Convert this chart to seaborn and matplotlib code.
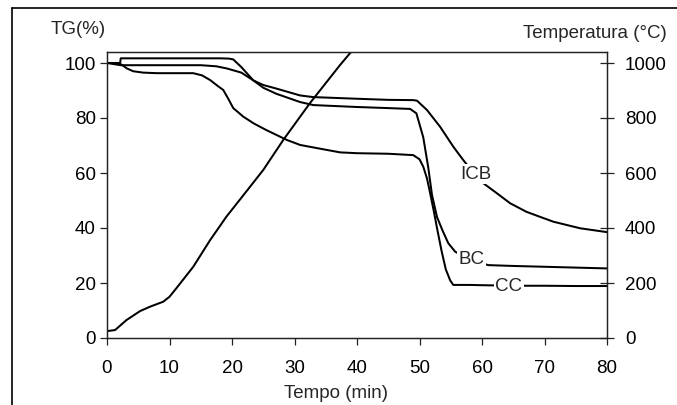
import matplotlib
matplotlib.use("Agg")
import matplotlib.pyplot as plt
import matplotlib.lines as mlines
import seaborn as sns
import numpy as np

# ---- data ----
icb_t = [0, 2.1, 2.2, 18.1, 19.5, 20.2, 21.5, 23.4, 25, 27.1, 30.9, 33, 40, 45, 49, 49.6,
         51.2, 53.3, 55.4, 57, 58.5, 60.2, 62.4, 64.5, 67.1, 69, 71.4, 75.7, 80]
icb_tg = [100, 100, 101.7, 101.7, 101.6, 101.3, 98.5, 93.7, 92, 90.7, 88.2, 87.6, 87, 86.6, 86.5, 86.3,
          82.9, 76.8, 69.6, 64.7, 60.5, 56.3, 52.6, 49, 45.9, 44.3, 42.3, 39.9, 38.5]

bc_t = [0, 2.2, 15, 17.5, 19.2, 21.5, 23.4, 25, 27.1, 30.9, 33, 40, 45, 48.5, 49.5, 50.6,
        51.4, 52.0, 52.8, 53.7, 54.6, 55.7, 58, 61, 65, 70, 75, 80]
bc_tg = [100, 99.2, 99.2, 98.8, 98, 96.5, 93.7, 91, 88.8, 85.8, 84.7, 84, 83.6, 83.3, 81.7, 73,
         62, 52, 44, 39, 34.5, 31.4, 28.5, 26.5, 26.2, 25.9, 25.6, 25.3]

cc_t = [0, 1.5, 2.2, 3.2, 4.2, 5.8, 8, 13.8, 15.2, 16.5, 17.8, 18.6, 19.4, 20.2, 21.8, 23.5,
        25.5, 28.8, 30.9, 33, 37.3, 40, 45, 49, 50, 50.6, 51.2, 51.7, 52.3, 52.8, 53.5,
        54.2, 54.9, 55.4, 58, 60, 65, 70, 75, 80]
cc_tg = [100, 100, 99.6, 98, 97, 96.5, 96.3, 96.3, 95.5, 93.8, 91.5, 90.2, 87, 83.6, 80.5, 78,
         75.6, 72, 70.2, 69.3, 67.5, 67.2, 67, 66.5, 65, 62.3, 58, 52.7, 46, 40, 32,
         25, 21, 19.3, 19.3, 19.2, 19, 19, 18.9, 18.9]

temp_t = [0, 1.3, 3.1, 5.3, 6.9, 9.0, 10.0, 11.1, 13.8, 16.5, 19.1, 21.5, 25.0, 28.2, 32.5, 37.3, 39.6]
temp_c = [25, 29, 65, 98, 114, 132, 150, 181, 259, 356, 441, 510, 611, 720, 855, 993, 1055]

x_ticks = [0, 10, 20, 30, 40, 50, 60, 70, 80]
tg_ticks = [0, 20, 40, 60, 80, 100]
temp_ticks = [0, 200, 400, 600, 800, 1000]

labels = ["ICB", "BC", "CC"]
label_pos = [(59.0, 59.6), (58.3, 28.4), (64.3, 18.7)]

# ---- style ----
sns.set_style("white")
plt.rcParams["font.family"] = ["Liberation Sans", "DejaVu Sans"]
FS = 13.5

fig = plt.figure(figsize=(6.77, 4.05), dpi=100)
ax = fig.add_axes([107 / 677, 67 / 405, 500 / 677, 286 / 405])
ax2 = ax.twinx()

lw = 1.45
for xs, ys in [(icb_t, icb_tg), (bc_t, bc_tg), (cc_t, cc_tg)]:
    sns.lineplot(x=xs, y=ys, ax=ax, color="black", lw=lw, sort=False, estimator=None)
sns.lineplot(x=temp_t, y=temp_c, ax=ax2, color="black", lw=lw, sort=False, estimator=None)

ax.set_xlim(0, 80)
ax.set_ylim(0, 104)
ax2.set_ylim(0, 1040)
ax.set_xticks(x_ticks)
ax.set_yticks(tg_ticks)
ax2.set_yticks(temp_ticks)
ax.set_xlabel("")
ax.set_ylabel("")
ax2.set_ylabel("")

for a in (ax, ax2):
    for s in a.spines.values():
        s.set_color("#222222")
        s.set_linewidth(0.9)
        s.set_visible(True)

ax.tick_params(axis="x", direction="out", length=5, width=0.9, pad=11,
               labelsize=FS, colors="#222222", bottom=True)
ax.tick_params(axis="y", direction="out", length=5, width=0.9, pad=3,
               labelsize=FS, colors="#222222", left=True)
ax2.tick_params(axis="y", direction="inout", length=10, width=0.9, pad=8,
                labelsize=FS, colors="#222222", right=True)
for t in ax.get_xticklabels() + ax.get_yticklabels() + ax2.get_yticklabels():
    t.set_color("black")

for name, (lx, ly) in zip(labels, label_pos):
    ax.text(lx, ly, name, fontsize=FS, ha="center", va="center", zorder=5,
            bbox=dict(boxstyle="square,pad=0.08", fc="white", ec="none"))

fig.text(78 / 677, 1 - 30 / 405, "TG(%)", fontsize=FS, ha="center", va="center")
fig.text(667 / 677, 1 - 33 / 405, "Temperatura (°C)", fontsize=FS, ha="right", va="center")
fig.text(336 / 677, 1 - 394 / 405, "Tempo (min)", fontsize=FS, ha="center", va="center")

# outer frame (top and left edges)
fig.add_artist(mlines.Line2D([12 / 677, 1], [1 - 8 / 405, 1 - 8 / 405],
                             transform=fig.transFigure, color="black", lw=1.2))
fig.add_artist(mlines.Line2D([12 / 677, 12 / 677], [0, 1 - 8 / 405],
                             transform=fig.transFigure, color="black", lw=1.2))

fig.savefig("out.png", dpi=100)
